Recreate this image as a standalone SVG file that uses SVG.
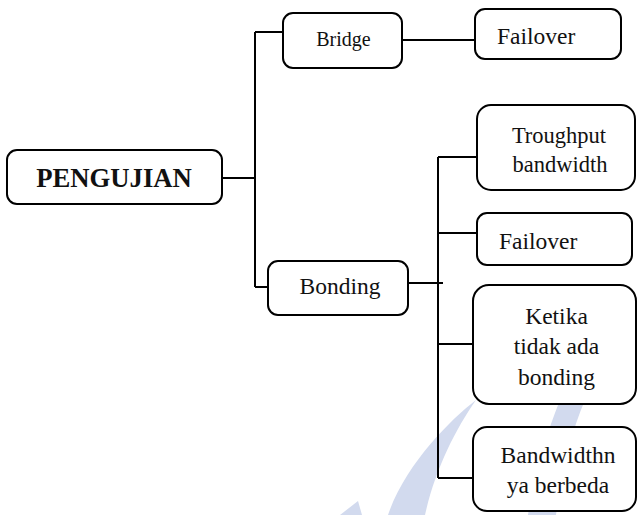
<svg xmlns="http://www.w3.org/2000/svg" width="637" height="515" viewBox="0 0 637 515">
<style>
.box{fill:#fff;stroke:#000;stroke-width:2}
.ln{fill:none;stroke:#000;stroke-width:2}
.t{font-family:"Liberation Serif","Times New Roman",serif;font-size:23.5px;fill:#111}
.c{text-anchor:middle}
.wm{fill:#d2daee}
</style>
<rect width="637" height="515" fill="#fff"/>
<g id="watermark">
<path class="wm" d="M476,400 C450,420 405,465 388,515 L425,515 C435,470 455,430 476,400 Z"/>
<path class="wm" d="M585,400 C572,430 562,470 556,515 L528,515 C535,470 548,430 560,400 Z"/>
<path class="wm" d="M340,515 L358,501 L362,515 Z"/>
</g>
<g id="connectors">
<path class="ln" d="M222,178 H255"/>
<path class="ln" d="M255,32 V287"/>
<path class="ln" d="M255,32 H283"/>
<path class="ln" d="M255,287 H268"/>
<path class="ln" d="M402,40 H475"/>
<path class="ln" d="M408,283 H443"/>
<path class="ln" d="M438,157 V478"/>
<path class="ln" d="M438,157 H477"/>
<path class="ln" d="M438,233 H477"/>
<path class="ln" d="M438,344 H473"/>
<path class="ln" d="M438,478 H473"/>
</g>
<g id="pengujian">
<rect class="box" x="7" y="150" width="215" height="54" rx="10"/>
<text class="t c" x="114" y="187" style="font-weight:bold;font-size:26.7px">PENGUJIAN</text>
</g>
<g id="bridge">
<rect class="box" x="283" y="13" width="119" height="55" rx="10"/>
<text class="t c" x="343.5" y="46" style="font-size:20px">Bridge</text>
</g>
<g id="failover1">
<rect class="box" x="475" y="9" width="146" height="50" rx="10"/>
<text class="t" x="497" y="44">Failover</text>
</g>
<g id="bonding">
<rect class="box" x="268" y="261" width="140" height="54" rx="10"/>
<text class="t c" x="340" y="294">Bonding</text>
</g>
<g id="troughput">
<rect class="box" x="477" y="105" width="158" height="85" rx="14"/>
<text class="t c" x="559" y="143" style="font-size:22.5px">Troughput</text>
<text class="t c" x="560" y="172" style="font-size:22.5px">bandwidth</text>
</g>
<g id="failover2">
<rect class="box" x="477" y="213" width="155" height="52" rx="10"/>
<text class="t" x="499" y="249">Failover</text>
</g>
<g id="ketika">
<rect class="box" x="473" y="285" width="163" height="119" rx="16"/>
<text class="t c" x="556.5" y="324">Ketika</text>
<text class="t c" x="556.5" y="354">tidak ada</text>
<text class="t c" x="556.5" y="385">bonding</text>
</g>
<g id="bandwidthn">
<rect class="box" x="473" y="427" width="163" height="84" rx="14"/>
<text class="t c" x="558" y="463">Bandwidthn</text>
<text class="t c" x="558" y="493">ya berbeda</text>
</g>
</svg>
